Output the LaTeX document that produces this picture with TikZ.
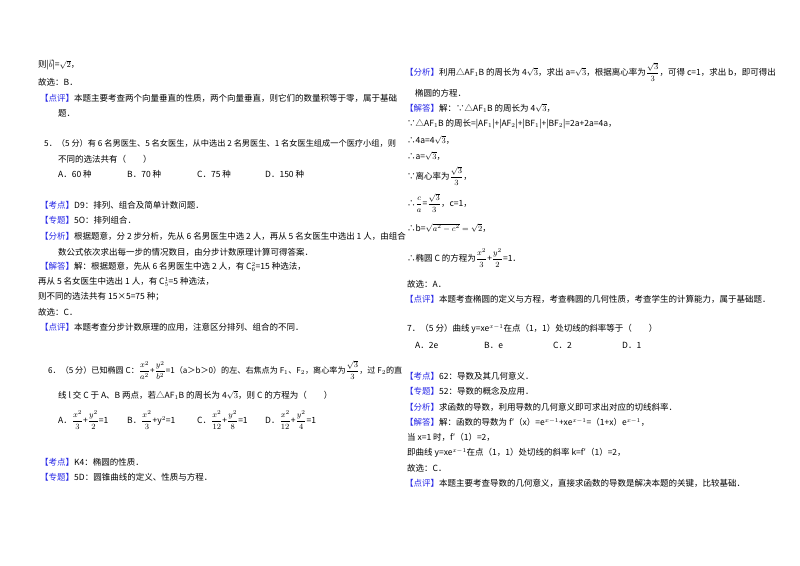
\documentclass[tikz,border=0pt]{standalone}
\usepackage{fontspec}
\setmainfont{Noto Sans CJK SC}
\usepackage{amsmath,amssymb}
\definecolor{tagblue}{RGB}{40,40,230}
\newcommand{\tg}[1]{{\color{tagblue}【#1】}}
\newcommand{\fr}[2]{{\fontsize{8}{9}\selectfont$\dfrac{#1}{#2}$}}
\newcommand{\cmb}[2]{C${}_{#1}^{#2}$}
\begin{document}
\begin{tikzpicture}[x=1pt,y=-1pt,
  ln/.style={anchor=west,inner sep=0pt,font=\fontsize{8.5}{10}\selectfont}]
\useasboundingbox (0,0) rectangle (800,565);
% left column
\node[ln] (l1) at (38,65) {则|$\vec{b}$|=$\sqrt{2}$，};
\node[ln] (l2) at (38,82) {故选：B．};
\node[ln] (l3) at (40,98) {\tg{点评}本题主要考查两个向量垂直的性质，两个向量垂直，则它们的数量积等于零，属于基础};
\node[ln] (l4) at (58,113) {题．};
\node[ln,font=\fontsize{8.2}{10}\selectfont] (l5) at (44,143) {5．（5 分）有 6 名男医生、5 名女医生，从中选出 2 名男医生、1 名女医生组成一个医疗小组，则};
\node[ln] (l6) at (58,159) {不同的选法共有（\quad\quad）};
\node[ln] (o5a) at (58,174) {A．60 种};
\node[ln] (o5b) at (127,174) {B．70 种};
\node[ln] (o5c) at (197,174) {C．75 种};
\node[ln] (o5d) at (265,174) {D．150 种};
\node[ln] (l7) at (40,205) {\tg{考点}D9：排列、组合及简单计数问题．};
\node[ln] (l8) at (40,220) {\tg{专题}5O：排列组合．};
\node[ln] (l9) at (40,236) {\tg{分析}根据题意，分 2 步分析，先从 6 名男医生中选 2 人，再从 5 名女医生中选出 1 人，由组合};
\node[ln] (l10) at (58,252) {数公式依次求出每一步的情况数目，由分步计数原理计算可得答案．};
\node[ln] (l11) at (40,267) {\tg{解答}解：根据题意，先从 6 名男医生中选 2 人，有 \cmb{6}{2}=15 种选法，};
\node[ln] (l12) at (38,282) {再从 5 名女医生中选出 1 人，有 \cmb{5}{1}=5 种选法，};
\node[ln] (l13) at (38,297) {则不同的选法共有 15×5=75 种；};
\node[ln] (l14) at (38,312) {故选：C．};
\node[ln] (l15) at (40,327) {\tg{点评}本题考查分步计数原理的应用，注意区分排列、组合的不同．};
\node[ln,font=\fontsize{8.1}{10}\selectfont] (l16) at (48,370) {6．（5 分）已知椭圆 C：\fr{x^2}{a^2}+\fr{y^2}{b^2}=1（a＞b＞0）的左、右焦点为 F$_1$、F$_2$，离心率为\fr{\sqrt3}{3}，过 F$_2$的直};
\node[ln] (l17) at (58,395) {线 l 交 C 于 A、B 两点，若△AF$_1$B 的周长为 4$\sqrt3$，则 C 的方程为（\quad\quad）};
\node[ln] (o6a) at (58,420) {A．\fr{x^2}{3}+\fr{y^2}{2}=1};
\node[ln] (o6b) at (127,420) {B．\fr{x^2}{3}+y$^2$=1};
\node[ln] (o6c) at (197,420) {C．\fr{x^2}{12}+\fr{y^2}{8}=1};
\node[ln] (o6d) at (265,420) {D．\fr{x^2}{12}+\fr{y^2}{4}=1};
\node[ln] (l18) at (40,462) {\tg{考点}K4：椭圆的性质．};
\node[ln] (l19) at (40,477) {\tg{专题}5D：圆锥曲线的定义、性质与方程．};
% right column
\node[ln] (r1) at (405,72) {\tg{分析}利用△AF$_1$B 的周长为 4$\sqrt3$，求出 a=$\sqrt3$，根据离心率为\fr{\sqrt3}{3}，可得 c=1，求出 b，即可得出};
\node[ln] (r2) at (415,93) {椭圆的方程．};
\node[ln] (r3) at (405,108) {\tg{解答}解：∵△AF$_1$B 的周长为 4$\sqrt3$，};
\node[ln] (r4) at (407,124) {∵△AF$_1$B 的周长=|AF$_1$|+|AF$_2$|+|BF$_1$|+|BF$_2$|=2a+2a=4a，};
\node[ln] (r5) at (407,140) {∴4a=4$\sqrt3$，};
\node[ln] (r6) at (407,156) {∴a=$\sqrt3$，};
\node[ln] (r7) at (407,176) {∵离心率为\fr{\sqrt3}{3}，};
\node[ln] (r8) at (407,203) {∴\fr{c}{a}=\fr{\sqrt3}{3}，c=1，};
\node[ln] (r9) at (407,228) {∴b=$\sqrt{a^2-c^2}=\sqrt2$，};
\node[ln] (r10) at (407,258) {∴椭圆 C 的方程为\fr{x^2}{3}+\fr{y^2}{2}=1．};
\node[ln] (r11) at (407,284) {故选：A．};
\node[ln] (r12) at (405,299) {\tg{点评}本题考查椭圆的定义与方程，考查椭圆的几何性质，考查学生的计算能力，属于基础题．};
\node[ln] (r13) at (407,329) {7．（5 分）曲线 y=xe$^{x-1}$在点（1，1）处切线的斜率等于（\quad\quad）};
\node[ln] (o7a) at (415,345) {A．2e};
\node[ln] (o7b) at (484,345) {B．e};
\node[ln] (o7c) at (553,345) {C．2};
\node[ln] (o7d) at (622,345) {D．1};
\node[ln] (r14) at (405,376) {\tg{考点}62：导数及其几何意义．};
\node[ln] (r15) at (405,391) {\tg{专题}52：导数的概念及应用．};
\node[ln] (r16) at (405,407) {\tg{分析}求函数的导数，利用导数的几何意义即可求出对应的切线斜率．};
\node[ln] (r17) at (405,422) {\tg{解答}解：函数的导数为 f′（x）=e$^{x-1}$+xe$^{x-1}$=（1+x）e$^{x-1}$，};
\node[ln] (r18) at (407,437) {当 x=1 时，f′（1）=2，};
\node[ln] (r19) at (407,453) {即曲线 y=xe$^{x-1}$在点（1，1）处切线的斜率 k=f′（1）=2，};
\node[ln] (r20) at (407,468) {故选：C．};
\node[ln] (r21) at (405,483) {\tg{点评}本题主要考查导数的几何意义，直接求函数的导数是解决本题的关键，比较基础．};
\end{tikzpicture}
\end{document}
